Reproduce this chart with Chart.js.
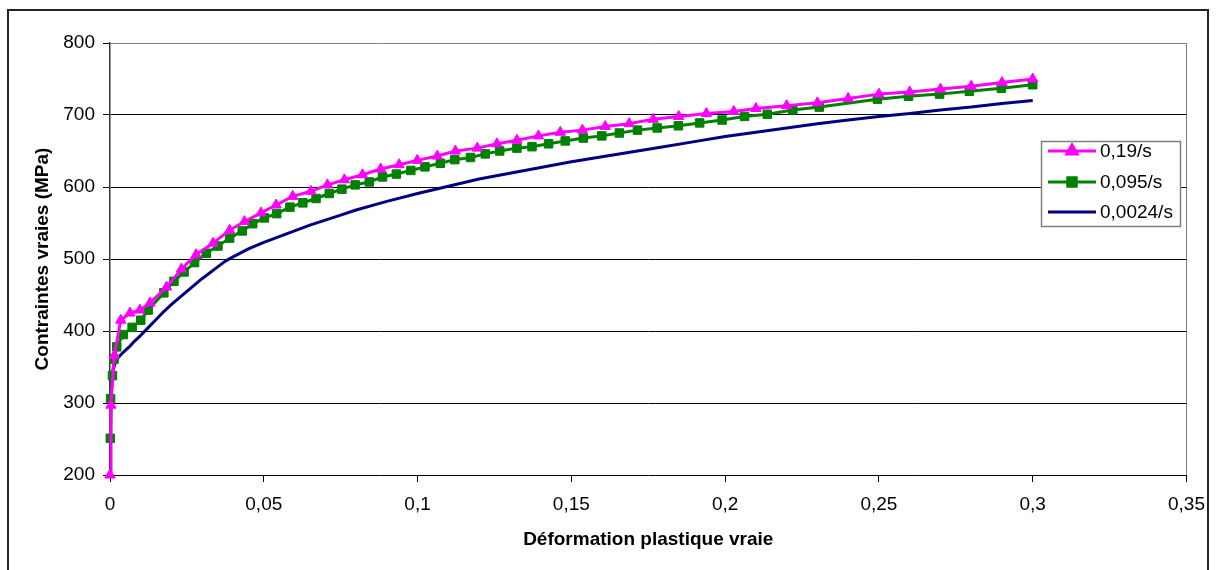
<!DOCTYPE html>
<html>
<head>
<meta charset="utf-8">
<script src="https://cdn.jsdelivr.net/npm/chart.js@4.4.1/dist/chart.umd.min.js"></script>
<style>
  html, body { margin: 0; padding: 0; background: #fff; }
  #wrap { position: relative; width: 1216px; height: 570px; }
  canvas { display: block; }
</style>
</head>
<body>
<div id="wrap"><canvas id="c" width="1216" height="570"></canvas></div>
<script>
// ---- Data ----
const seriesNames = ["0,19/s", "0,095/s", "0,0024/s"];

const strain019 = [0, 0.0003, 0.0014, 0.0035, 0.0065, 0.0097, 0.013, 0.0184, 0.0232, 0.028,
  0.0335, 0.0389, 0.0437, 0.0491, 0.054, 0.0594, 0.0653, 0.0707, 0.0762, 0.0821,
  0.088, 0.094, 0.0999, 0.1064, 0.1123, 0.1194, 0.1258, 0.1323, 0.1393, 0.1464,
  0.1536, 0.161, 0.1688, 0.1766, 0.1849, 0.1939, 0.2028, 0.21, 0.22, 0.23,
  0.24, 0.25, 0.26, 0.27, 0.28, 0.29, 0.30];
const stress019 = [200, 297, 366, 415, 425, 429, 439, 461, 486, 506,
  522, 540, 552, 564, 575, 587, 594, 603, 610, 617,
  625, 631, 637, 643, 650, 654, 660, 665, 671, 676,
  679, 684, 688, 694, 698, 702, 705, 709, 713, 717,
  723, 729, 732, 736, 740, 745, 750];

const strain0095 = [0.0001, 0.0002, 0.0008, 0.0013, 0.0022, 0.0043, 0.0072, 0.01, 0.0124, 0.0175,
  0.0208, 0.0241, 0.0275, 0.0313, 0.0351, 0.0389, 0.043, 0.0464, 0.0502, 0.0542,
  0.0585, 0.0627, 0.067, 0.0713, 0.0754, 0.0797, 0.0843, 0.0886, 0.0931, 0.0978,
  0.1024, 0.1074, 0.1121, 0.1172, 0.122, 0.1267, 0.1323, 0.1372, 0.1426, 0.148,
  0.1539, 0.1599, 0.1656, 0.1715, 0.1779, 0.1848, 0.1917, 0.199, 0.2063, 0.2137,
  0.222, 0.2306, 0.2495, 0.2596, 0.2697, 0.2794, 0.2898, 0.30];
const stress0095 = [251, 306, 338, 361, 378, 395, 405, 415, 429, 453,
  469, 482, 495, 508, 518, 529, 539, 549, 557, 563,
  572, 578, 584, 591, 597, 603, 607, 614, 618, 623,
  628, 633, 638, 641, 646, 650, 654, 656, 660, 664,
  668, 671, 675, 679, 682, 685, 689, 693, 698, 701,
  707, 711, 722, 726, 729, 733, 737, 742];

const strain00024 = [0, 0.0002, 0.0004, 0.0007, 0.001, 0.0016, 0.0025, 0.0035, 0.005, 0.0065,
  0.008, 0.01, 0.0125, 0.015, 0.0175, 0.02, 0.0225, 0.025, 0.0275, 0.03,
  0.0325, 0.035, 0.0375, 0.04, 0.045, 0.05, 0.055, 0.06, 0.065, 0.07,
  0.075, 0.08, 0.09, 0.1, 0.11, 0.12, 0.13, 0.14, 0.15, 0.16,
  0.17, 0.18, 0.19, 0.2, 0.21, 0.22, 0.23, 0.24, 0.25, 0.26,
  0.27, 0.28, 0.29, 0.3];
const stress00024 = [200, 260, 310, 335, 345, 355, 362, 367, 373, 379,
  386, 394, 405, 416, 427, 437, 446, 455, 464, 473,
  481, 489, 497, 503, 514, 523, 531, 539, 547, 554,
  561, 568, 580, 591, 601, 611, 619, 627, 635, 642,
  649, 656, 663, 670, 676, 682, 688, 693, 698, 702,
  707, 711, 716, 720];

const xTickLabels = ["0", "0,05", "0,1", "0,15", "0,2", "0,25", "0,3", "0,35"];
const yTickLabels = ["200", "300", "400", "500", "600", "700", "800"];
const xTitle = "Déformation plastique vraie";
const yTitle = "Contraintes vraies (MPa)";

// ---- build ----
function pts(xs, ys) { return xs.map((x, i) => ({ x: x, y: ys[i] })); }
const FONT = "'Liberation Sans', Arial, sans-serif";

const outerBorder = {
  id: 'outerBorder',
  afterDraw(chart) {
    const ctx = chart.ctx;
    ctx.save();
    ctx.strokeStyle = '#222';
    ctx.lineWidth = 2;
    ctx.strokeRect(8, 10, 1200, 600);
    ctx.restore();
  }
};

const boxLegend = {
  id: 'boxLegend',
  afterDraw(chart) {
    const ctx = chart.ctx;
    ctx.save();
    const L = 1041, T = 141, R = 1180, B = 226;
    ctx.fillStyle = '#fff';
    ctx.fillRect(L, T, R - L, B - T);
    ctx.strokeStyle = '#808080';
    ctx.lineWidth = 1.5;
    ctx.strokeRect(L + 0.5, T + 0.5, R - L, B - T);
    const ys = [151, 182, 212];
    chart.data.datasets.forEach((ds, i) => {
      const y = ys[i];
      ctx.strokeStyle = ds.borderColor;
      ctx.lineWidth = 3;
      ctx.beginPath();
      ctx.moveTo(1048, y);
      ctx.lineTo(1096, y);
      ctx.stroke();
      if (ds.pointRadius > 0) {
        ctx.fillStyle = ds.pointBackgroundColor;
        ctx.strokeStyle = ds.pointBorderColor;
        Chart.helpers.drawPoint(ctx, { pointStyle: ds.pointStyle, radius: ds.pointRadius, rotation: 0, borderWidth: 1 }, 1072, y);
      }
      ctx.fillStyle = '#000';
      ctx.font = '19px ' + FONT;
      ctx.textBaseline = 'middle';
      ctx.textAlign = 'left';
      ctx.fillText(seriesNames[i], 1100, y + 1);
    });
    ctx.restore();
  }
};

new Chart(document.getElementById('c'), {
  type: 'line',
  data: {
    datasets: [
      {
        label: seriesNames[0], data: pts(strain019, stress019),
        borderColor: '#FF00FF', backgroundColor: '#FF00FF',
        pointBackgroundColor: '#FF00FF', pointBorderColor: '#FF00FF',
        pointStyle: 'triangle', pointRadius: 6, pointBorderWidth: 1,
        borderWidth: 3, tension: 0, clip: false
      },
      {
        label: seriesNames[1], data: pts(strain0095, stress0095),
        borderColor: '#008000', backgroundColor: '#008000',
        pointBackgroundColor: '#008000', pointBorderColor: '#008000',
        pointStyle: 'rect', pointRadius: 6, pointBorderWidth: 1,
        borderWidth: 3, tension: 0, clip: false
      },
      {
        label: seriesNames[2], data: pts(strain00024, stress00024),
        borderColor: '#000080', backgroundColor: '#000080',
        pointBackgroundColor: '#000080', pointBorderColor: '#000080',
        pointStyle: 'circle', pointRadius: 0,
        borderWidth: 3, tension: 0, clip: false
      }
    ]
  },
  options: {
    responsive: false,
    animation: false,
    devicePixelRatio: 1,
    layout: { padding: { left: 27, top: 43, right: 26, bottom: 15 } },
    plugins: { legend: { display: false }, tooltip: { enabled: false } },
    elements: { line: { borderJoinStyle: 'round' } },
    scales: {
      x: {
        type: 'linear', min: 0, max: 0.35,
        afterFit(scale) { scale.height = 80; },
        ticks: {
          stepSize: 0.05, color: '#000', padding: 11, maxRotation: 0,
          font: { family: FONT, size: 19 },
          callback: (v, i) => xTickLabels[i] !== undefined ? xTickLabels[i] : ''
        },
        grid: {
          drawOnChartArea: true, tickLength: 7, tickColor: '#000', lineWidth: 1,
          color: (c) => (c.index === xTickLabels.length - 1 ? '#808080' : 'rgba(0,0,0,0)')
        },
        border: { display: true, color: '#000', width: 1 },
        title: {
          display: true, text: xTitle, color: '#000',
          font: { family: FONT, size: 19, weight: 'bold' }
        }
      },
      y: {
        type: 'linear', min: 200, max: 800,
        afterFit(scale) { scale.width = 83; },
        ticks: {
          stepSize: 100, color: '#000', padding: 8,
          font: { family: FONT, size: 19 },
          callback: (v, i) => yTickLabels[i] !== undefined ? yTickLabels[i] : ''
        },
        grid: {
          tickLength: 7, tickColor: '#000', lineWidth: 1,
          color: (c) => (c.index === yTickLabels.length - 1 ? '#808080' : (c.index === 0 ? 'rgba(0,0,0,0)' : '#000'))
        },
        border: { display: true, color: '#333', width: 1.5 },
        title: {
          display: true, text: yTitle, color: '#000',
          font: { family: FONT, size: 19, weight: 'bold' }
        }
      }
    }
  },
  plugins: [outerBorder, boxLegend]
});
</script>
</body>
</html>
